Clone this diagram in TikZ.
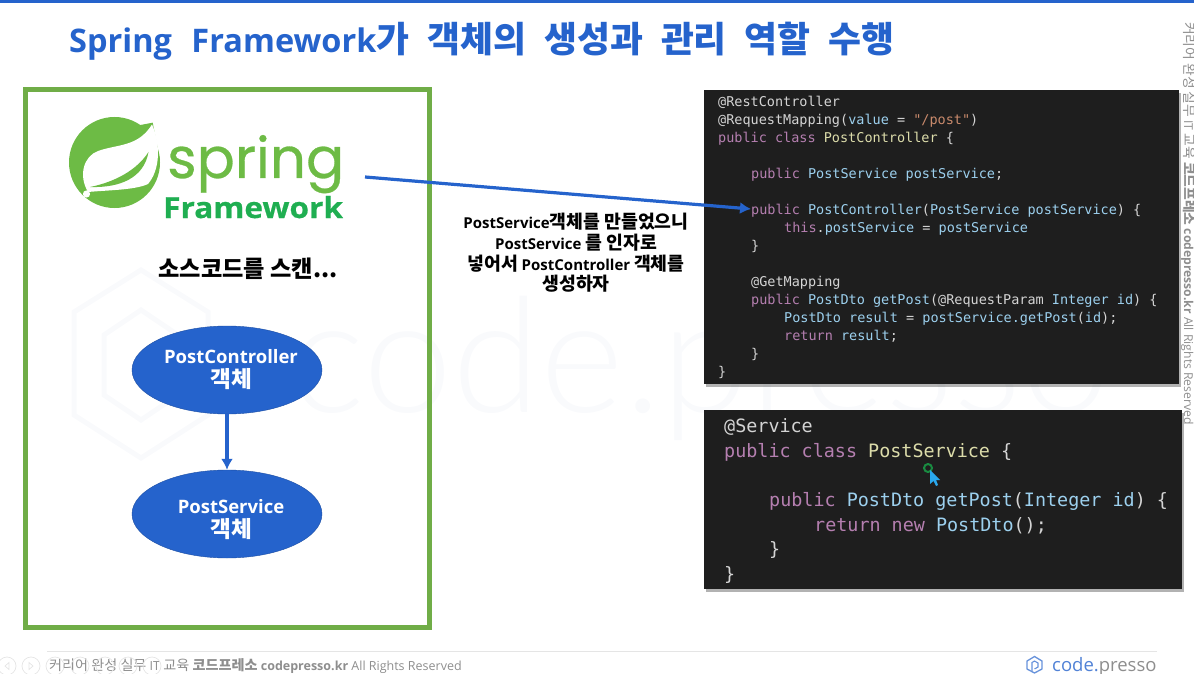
\documentclass[tikz,border=0pt]{standalone}
\usepackage{fontspec}
\setmainfont{Open Sans}
\newfontfamily\kr{Noto Sans CJK KR}[Scale=1.22]
\newfontfamily\krfoot{Noto Sans CJK KR}[Scale=1.13]
\newfontfamily\krtitle{Noto Sans CJK KR}[WordSpace=2.2]
\newfontfamily\codefont{DejaVu Sans Mono}
\newfontfamily\logofont{Poppins}[FakeBold=0.5]
\newfontfamily\fwfont{Open Sans}[BoldFeatures={FakeStretch=1.09,FakeBold=0.6}]
\newfontfamily\thinfont{Lato Light}
\usetikzlibrary{shapes.geometric,shadows,arrows.meta}
\definecolor{titleblue}{HTML}{2563CC}
\definecolor{framegreen}{HTML}{70AD47}
\definecolor{springgreen}{HTML}{6DBB45}
\definecolor{fwgreen}{HTML}{1FAE51}
\definecolor{codebg}{HTML}{1E1E1E}
\definecolor{codepl}{HTML}{D4D4D4}
\definecolor{codekwc}{HTML}{B57FB0}
\definecolor{codetyc}{HTML}{9CD0EE}
\definecolor{codeclc}{HTML}{DCDCAA}
\definecolor{codestc}{HTML}{C98A6C}
\definecolor{footgray}{HTML}{8E8E8E}
\definecolor{markfaint}{HTML}{F9FAFC}
\definecolor{cursorblue}{HTML}{2AA8EE}
\newcommand{\codekw}[1]{\textcolor{codekwc}{#1}}
\newcommand{\codety}[1]{\textcolor{codetyc}{#1}}
\newcommand{\codecl}[1]{\textcolor{codeclc}{#1}}
\newcommand{\codest}[1]{\textcolor{codestc}{#1}}
\begin{document}
\begin{tikzpicture}[
x=1pt,y=-1pt,
title/.style={%
font=\fontsize{32.5}{40}\selectfont\bfseries,
text=titleblue,
anchor=west,
inner sep=0pt,
},
objnode/.style={%
ellipse,
fill=titleblue,
draw=titleblue!80!black,
minimum width=190pt,
minimum height=88pt,
inner xsep=-20pt,
inner ysep=0pt,
align=center,
text=white,
font=\fontsize{18.5}{24}\selectfont\bfseries,
},
flow/.style={%
-{Latex[length=11pt,width=12pt]},
draw=titleblue,
line width=3.2pt,
},
codebox/.style={%
fill=codebg,
minimum width=#1,
inner sep=0pt,
anchor=north west,
drop shadow={shadow xshift=2pt,shadow yshift=-3pt,fill=black,opacity=0.3},
},
lineA/.style={%
font=\fontsize{13.5}{16}\codefont,
text=codepl,
anchor=west,
inner sep=0pt,
text height=14pt,
text depth=3pt,
},
lineB/.style={%
font=\fontsize{18.4}{22}\codefont,
text=codepl,
anchor=west,
inner sep=0pt,
text height=18pt,
text depth=4pt,
},
foot/.style={%
font=\fontsize{12.5}{14}\selectfont,
text=footgray,
inner sep=0pt,
},
ctrl/.style={%
draw=black!10,
line width=0.7pt,
},
]

\useasboundingbox(0,0)rectangle(1194,674);
\fill[titleblue](0,0)rectangle(1194,3);

%watermark
\node[font=\fontsize{160}{170}\thinfont,text=markfaint,anchor=base west,inner sep=0pt](markword)at(289,412){code.presso};
\draw[markfaint,line width=5pt](141,270)--(208,312)--(208,415)--(141,458)--(74,415)--(74,312)--cycle;
\draw[markfaint,line width=5pt](141,310)--(178,335)--(178,395)--(141,420)--(104,395)--(104,335)--cycle;

\node[title](titleline)at(69,41.5){Spring\hspace{11pt} Framework{\fontsize{35.8}{40}\krtitle\bfseries 가 객체의 생성과 관리 역할 수행}};

%left frame
\draw[framegreen,line width=5pt](25.5,89.5)rectangle(429.5,627.5);

%logo
\fill[springgreen](114.5,162.5)circle(45.5);
\fill[springgreen](152.7,122.7)--(135,126)--(160,160)--cycle;
\fill[white](88,192)..controls(78,175)and(84,156)..(98,151)
..controls(118,144)and(138,147)..(152,124.5)
..controls(161,145)and(160,170)..(148,184)
..controls(135,190)and(110,190)..(88,192)--cycle;
\fill[springgreen](148.5,152)..controls(137,170)and(115,182)..(90,187)
..controls(120,188)and(144,178)..(148.5,152)--cycle;
\fill[white](86.5,194)circle(3.6);
\node[font=\fontsize{56.5}{62}\logofont,text=springgreen,anchor=base west,inner sep=0pt](springword)at(167,178){spring};
\node[font=\fontsize{29}{32}\fwfont\bfseries,text=fwgreen,anchor=base west,inner sep=0pt](fwword)at(163,218){Framework};

\node[font=\fontsize{19}{24}\kr\bfseries,inner sep=0pt](scanlabel)at(248,269){소스코드를 스캔...};

%objects
\node[objnode](ctrlobj)at(227,370){\hspace*{8pt}PostController\\\hspace*{8pt}{\kr 객체}};
\node[objnode](svcobj)at(227,514){\rule{0pt}{26pt}\hspace*{8pt}PostService\\\hspace*{8pt}{\kr 객체}};
\draw[flow](ctrlobj.south)--(svcobj.north);

%code 1
\node[codebox=475pt,minimum height=294pt](boxA)at(704,90){};
\node[lineA](a1)at(718,101){@RestController};
\node[lineA](a2)at(718,119){@RequestMapping(\codety{value} = \codest{"/post"})};
\node[lineA](a3)at(718,137){\codekw{public class} \codecl{PostController} \{};
\node[lineA](a4)at(751,173){\codekw{public} \codety{PostService postService};};
\node[lineA](a5)at(751,209){\codekw{public} \codety{PostController}(\codety{PostService postService}) \{};
\node[lineA](a6)at(784,227){\codekw{this}.\codety{postService} = \codety{postService}};
\node[lineA](a7)at(751,245){\}};
\node[lineA](a8)at(751,281){@GetMapping};
\node[lineA](a9)at(751,299){\codekw{public} \codety{PostDto getPost}(@RequestParam \codety{Integer id}) \{};
\node[lineA](a10)at(784,317){\codety{PostDto result} = \codety{postService.getPost}(\codety{id});};
\node[lineA](a11)at(784,335){\codekw{return} \codety{result};};
\node[lineA](a12)at(751,353){\}};
\node[lineA](a13)at(718,371){\}};

%code 2
\node[codebox=478pt,minimum height=179pt](boxB)at(704,410){};
\node[lineB](b1)at(724,425.5){@Service};
\node[lineB](b2)at(724,450){\codekw{public class} \codecl{PostService} \{};
\node[lineB](b3)at(769,499.5){\codekw{public} \codety{PostDto getPost}(\codety{Integer id}) \{};
\node[lineB](b4)at(814,524){\codekw{return new} \codety{PostDto}();};
\node[lineB](b5)at(769,548.5){\}};
\node[lineB](b6)at(724,573.5){\}};

%cursor
\draw[fwgreen!80!black,line width=2pt](928,468)circle(4);
\fill[cursorblue](930,470)--(930,484)--(933.5,481)--(936,486)--(938,485)--(936,480)--(940,480)--cycle;

%explanation
\node[font=\fontsize{15}{20.6}\selectfont\bfseries,align=center,inner sep=0pt](explain)at(576,253){PostService{\kr\bfseries 객체를 만들었으니}\\PostService {\kr\bfseries 를 인자로}\\{\kr\bfseries 넣어서} PostController {\kr\bfseries 객체를}\\{\kr\bfseries 생성하자}};

\coordinate(scanstart)at(365,177);
\draw[flow](scanstart)--(a5.west);

%footer
\draw[black!10,line width=1pt](47,651)--(1157,651);
\node[foot,anchor=base west](footline)at(49,670){{\krfoot 커리어 완성 실무} IT {\krfoot 교육} \textbf{{\krfoot\bfseries 코드프레소} codepresso.kr} All Rights Reserved};
\node[foot,font=\fontsize{12.2}{14}\selectfont,anchor=base west,rotate=-90](sideline)at(1184,22){{\krfoot 커리어 완성 실무} IT {\krfoot 교육} \textbf{{\krfoot\bfseries 코드프레소} codepresso.kr} All Rights Reserved};
\draw[ctrl](7,666)circle(9);
\draw[ctrl](31,666)circle(9);
\draw[ctrl](55,666)circle(9);
\draw[ctrl](80,666)circle(9);
\draw[ctrl](105,666)circle(9);
\draw[ctrl](128,666)circle(9);
\draw[ctrl](152,666)circle(9);
\draw[ctrl](9,662.5)--(5,666)--(9,669.5)--cycle;
\draw[ctrl](29,662.5)--(33,666)--(29,669.5)--cycle;
\draw[titleblue!70,line width=1.3pt](1034.5,656.5)--(1042,661)--(1042,669)--(1034.5,673)--(1027,669)--(1027,661)--cycle;
\draw[titleblue!70,line width=1.1pt](1032,671)--(1032,662.5)--(1034.5,661)--(1038,663)--(1038,667)--(1034.5,669);
\node[font=\fontsize{18.5}{20}\selectfont,text=titleblue!80,anchor=base west,inner sep=0pt](pressologo)at(1052,671){code.\textcolor{footgray}{presso}};
\end{tikzpicture}
\end{document}
